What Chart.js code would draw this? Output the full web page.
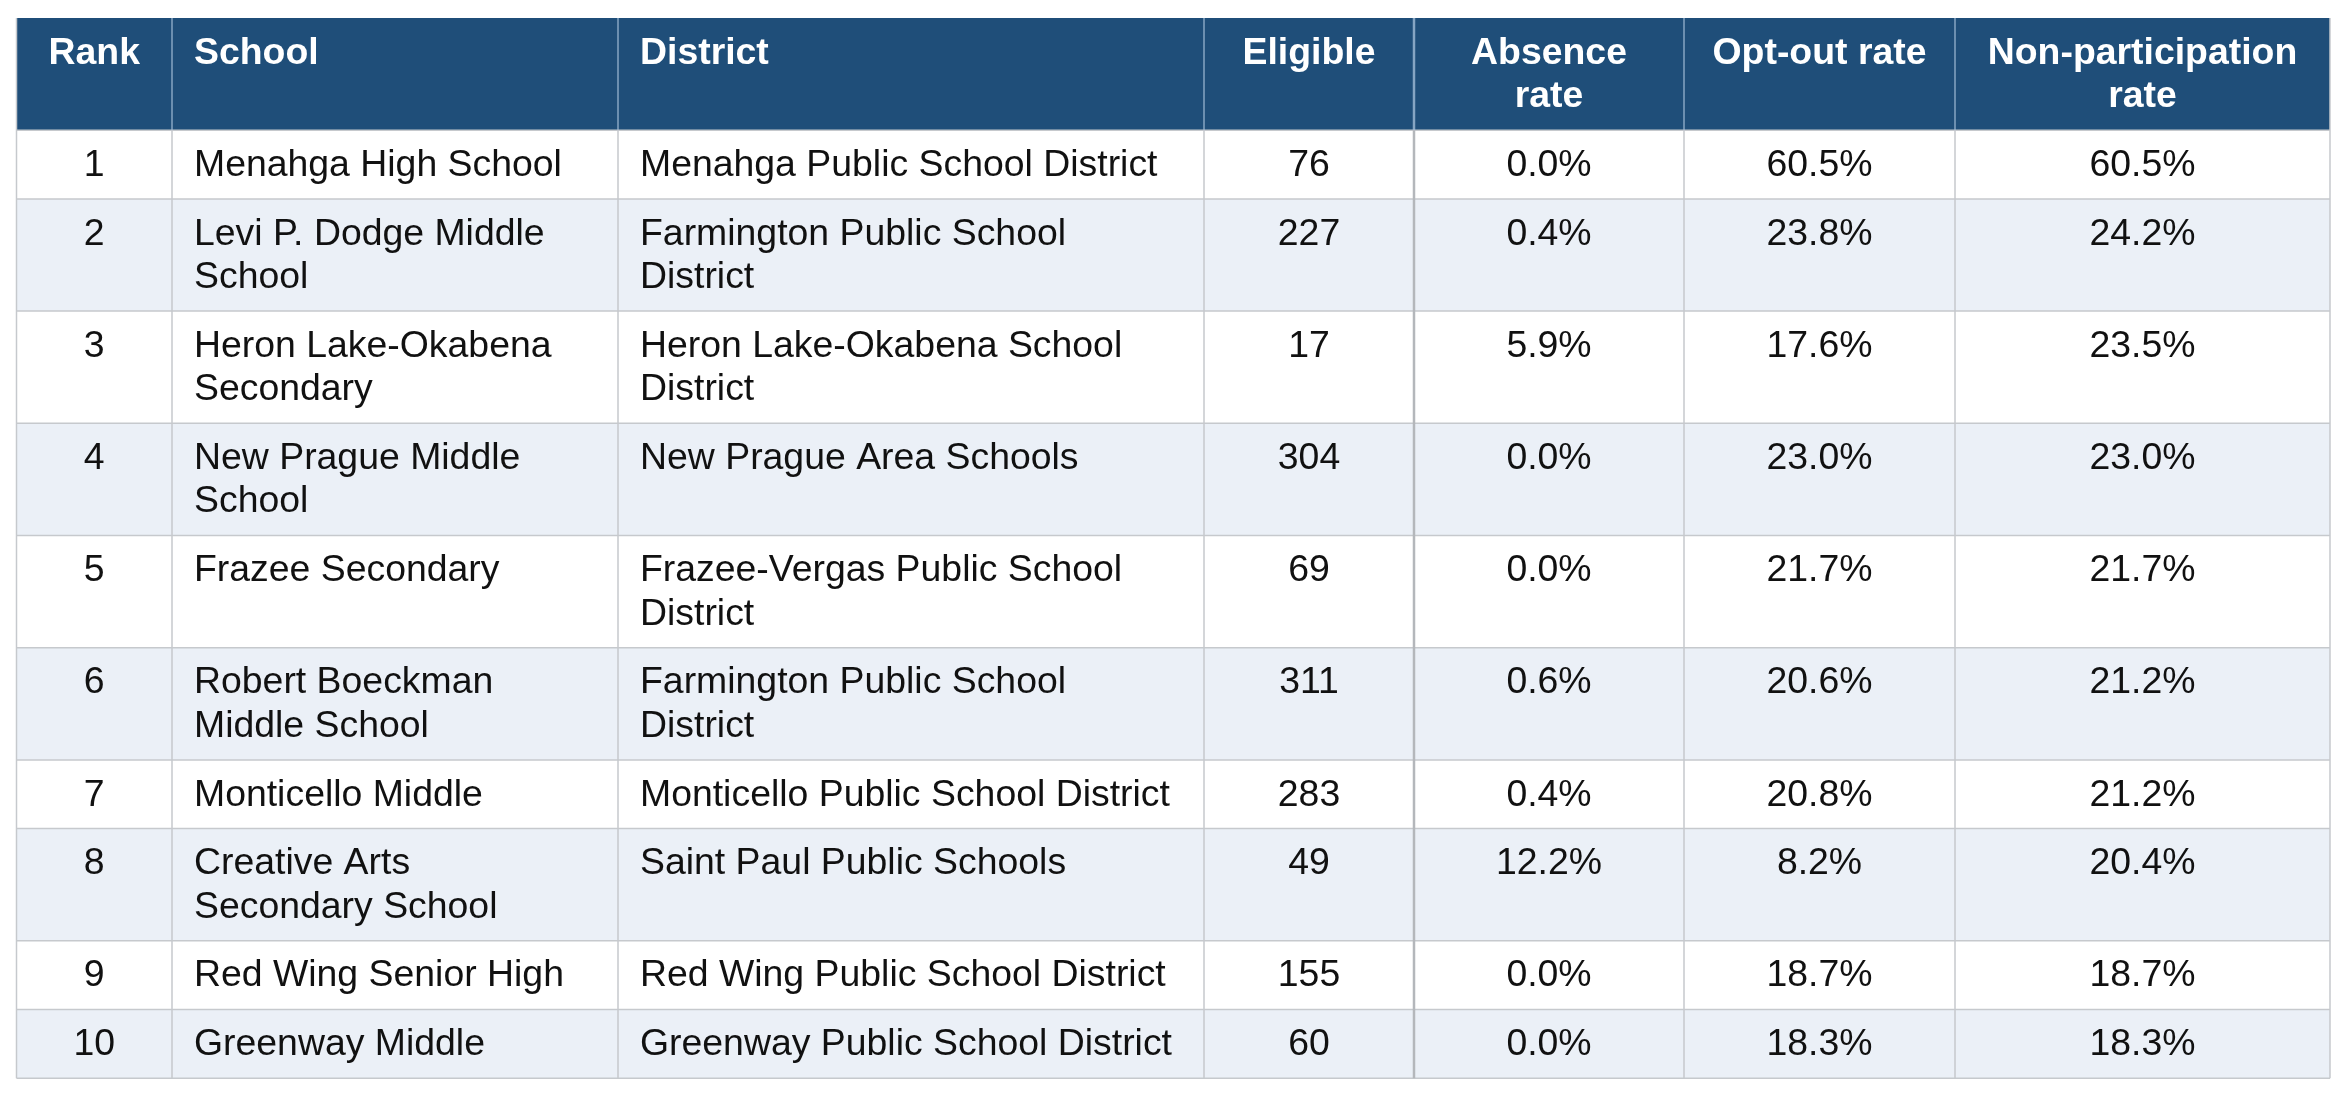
<!DOCTYPE html>
<html>
<head>
<meta charset="utf-8">
<style>
  html, body { margin: 0; padding: 0; background: #ffffff; }
  canvas { display: block; }
</style>
<script src="https://cdn.jsdelivr.net/npm/chart.js@4/dist/chart.umd.min.js"></script>
</head>
<body>
<canvas id="tableChart" width="2346" height="1095"></canvas>
<script>
// Table data
const headers = ['Rank', 'School', 'District', 'Eligible', 'Absence rate', 'Opt-out rate', 'Non-participation rate'];
const ranks = [1, 2, 3, 4, 5, 6, 7, 8, 9, 10];
const schools = [
    'Menahga High School', 'Levi P. Dodge Middle School', 'Heron Lake-Okabena Secondary',
    'New Prague Middle School', 'Frazee Secondary', 'Robert Boeckman Middle School',
    'Monticello Middle', 'Creative Arts Secondary School', 'Red Wing Senior High', 'Greenway Middle'
];
const districts = [
    'Menahga Public School District', 'Farmington Public School District', 'Heron Lake-Okabena School District',
    'New Prague Area Schools', 'Frazee-Vergas Public School District', 'Farmington Public School District',
    'Monticello Public School District', 'Saint Paul Public Schools', 'Red Wing Public School District',
    'Greenway Public School District'
];
const eligible = [76, 227, 17, 304, 69, 311, 283, 49, 155, 60];
const absenceRate = [0.0, 0.4, 5.9, 0.0, 0.0, 0.6, 0.4, 12.2, 0.0, 0.0];
const optOutRate = [60.5, 23.8, 17.6, 23.0, 21.7, 20.6, 20.8, 8.2, 18.7, 18.3];
const nonPartRate = [60.5, 24.2, 23.5, 23.0, 21.7, 21.2, 21.2, 20.4, 18.7, 18.3];

// Layout
const colEdges = [16.5, 172, 618, 1204, 1414, 1684, 1955, 2330];
const colAlign = ['center', 'left', 'left', 'center', 'center', 'center', 'center'];
const tableTop = 18;
const fontSize = 37.4;
const lineH = 43.5;
const padX = 22;
const padY = 12.6;
const FONT = '"Liberation Sans", Arial, sans-serif';

const pct = v => v.toFixed(1) + '%';

function cellTexts(i) {
    return [String(ranks[i]), schools[i], districts[i], String(eligible[i]),
        pct(absenceRate[i]), pct(optOutRate[i]), pct(nonPartRate[i])];
}

function wrap(ctx, text, maxW) {
    const words = text.split(' ');
    const lines = [];
    let cur = '';
    words.forEach(w => {
        const test = cur ? cur + ' ' + w : w;
        if (cur && ctx.measureText(test).width > maxW) {
            lines.push(cur);
            cur = w;
        } else {
            cur = test;
        }
    });
    if (cur) lines.push(cur);
    return lines;
}

const tablePlugin = {
    id: 'tablePlugin',
    afterDraw(chart) {
        const ctx = chart.ctx;
        const x = chart.scales.x;
        const y = chart.scales.y;
        const px = v => x.getPixelForValue(v);
        const py = v => y.getPixelForValue(v);

        // wrap every row first to know row heights
        const rows = [headers].concat(ranks.map((r, i) => cellTexts(i)));
        const wrapped = rows.map((cells, ri) => {
            ctx.font = (ri === 0 ? 'bold ' : '') + fontSize + 'px ' + FONT;
            return cells.map((t, ci) => wrap(ctx, t, colEdges[ci + 1] - colEdges[ci] - 50));
        });
        const rowTops = [tableTop];
        wrapped.forEach(cells => {
            const n = Math.max(...cells.map(l => l.length));
            rowTops.push(rowTops[rowTops.length - 1] + n * lineH + 2 * padY);
        });
        const left = colEdges[0], right = colEdges[colEdges.length - 1];

        ctx.save();
        // backgrounds
        wrapped.forEach((cells, ri) => {
            let fill = '#ffffff';
            if (ri === 0) fill = '#1f4e79';
            else if (ri % 2 === 0) fill = '#ebf0f7';
            ctx.fillStyle = fill;
            ctx.fillRect(px(left), py(rowTops[ri]), px(right) - px(left), py(rowTops[ri + 1]) - py(rowTops[ri]));
        });

        // grid lines
        const bottom = rowTops[rowTops.length - 1];
        ctx.lineWidth = 1.5;
        ctx.strokeStyle = '#c6c9cd';
        for (let ri = 1; ri < rowTops.length; ri++) {
            ctx.beginPath();
            ctx.moveTo(px(left), py(rowTops[ri]));
            ctx.lineTo(px(right), py(rowTops[ri]));
            ctx.stroke();
        }
        colEdges.forEach((c, ci) => {
            const thick = ci === 4;
            // header part
            if (ci > 0 && ci < colEdges.length - 1) {
                ctx.strokeStyle = 'rgba(170, 195, 220, 0.75)';
                ctx.lineWidth = thick ? 2.5 : 1.5;
                ctx.beginPath();
                ctx.moveTo(px(c), py(rowTops[0]));
                ctx.lineTo(px(c), py(rowTops[1]));
                ctx.stroke();
            }
            ctx.strokeStyle = thick ? '#b4b7bb' : '#c6c9cd';
            ctx.lineWidth = thick ? 2.5 : 1.5;
            ctx.beginPath();
            ctx.moveTo(px(c), py(ci === 0 || ci === colEdges.length - 1 ? rowTops[0] : rowTops[1]));
            ctx.lineTo(px(c), py(bottom));
            ctx.stroke();
        });

        // texts
        ctx.textBaseline = 'middle';
        wrapped.forEach((cells, ri) => {
            ctx.font = (ri === 0 ? 'bold ' : '') + fontSize + 'px ' + FONT;
            ctx.fillStyle = ri === 0 ? '#ffffff' : '#111111';
            cells.forEach((lines, ci) => {
                const align = colAlign[ci];
                ctx.textAlign = align;
                const tx = align === 'left' ? colEdges[ci] + padX : (colEdges[ci] + colEdges[ci + 1]) / 2;
                lines.forEach((line, li) => {
                    const ty = rowTops[ri] + padY + lineH * (li + 0.5) + 1;
                    ctx.fillText(line, px(tx), py(ty));
                });
            });
        });
        ctx.restore();
    }
};

const chart = new Chart(document.getElementById('tableChart'), {
    type: 'scatter',
    data: { datasets: [] },
    options: {
        responsive: false,
        devicePixelRatio: 1,
        animation: false,
        layout: { padding: 0 },
        plugins: { legend: { display: false }, tooltip: { enabled: false } },
        scales: {
            x: { type: 'linear', min: 0, max: 2346, display: false },
            y: { type: 'linear', min: 0, max: 1095, reverse: true, display: false }
        }
    },
    plugins: [tablePlugin]
});
</script>
</body>
</html>
